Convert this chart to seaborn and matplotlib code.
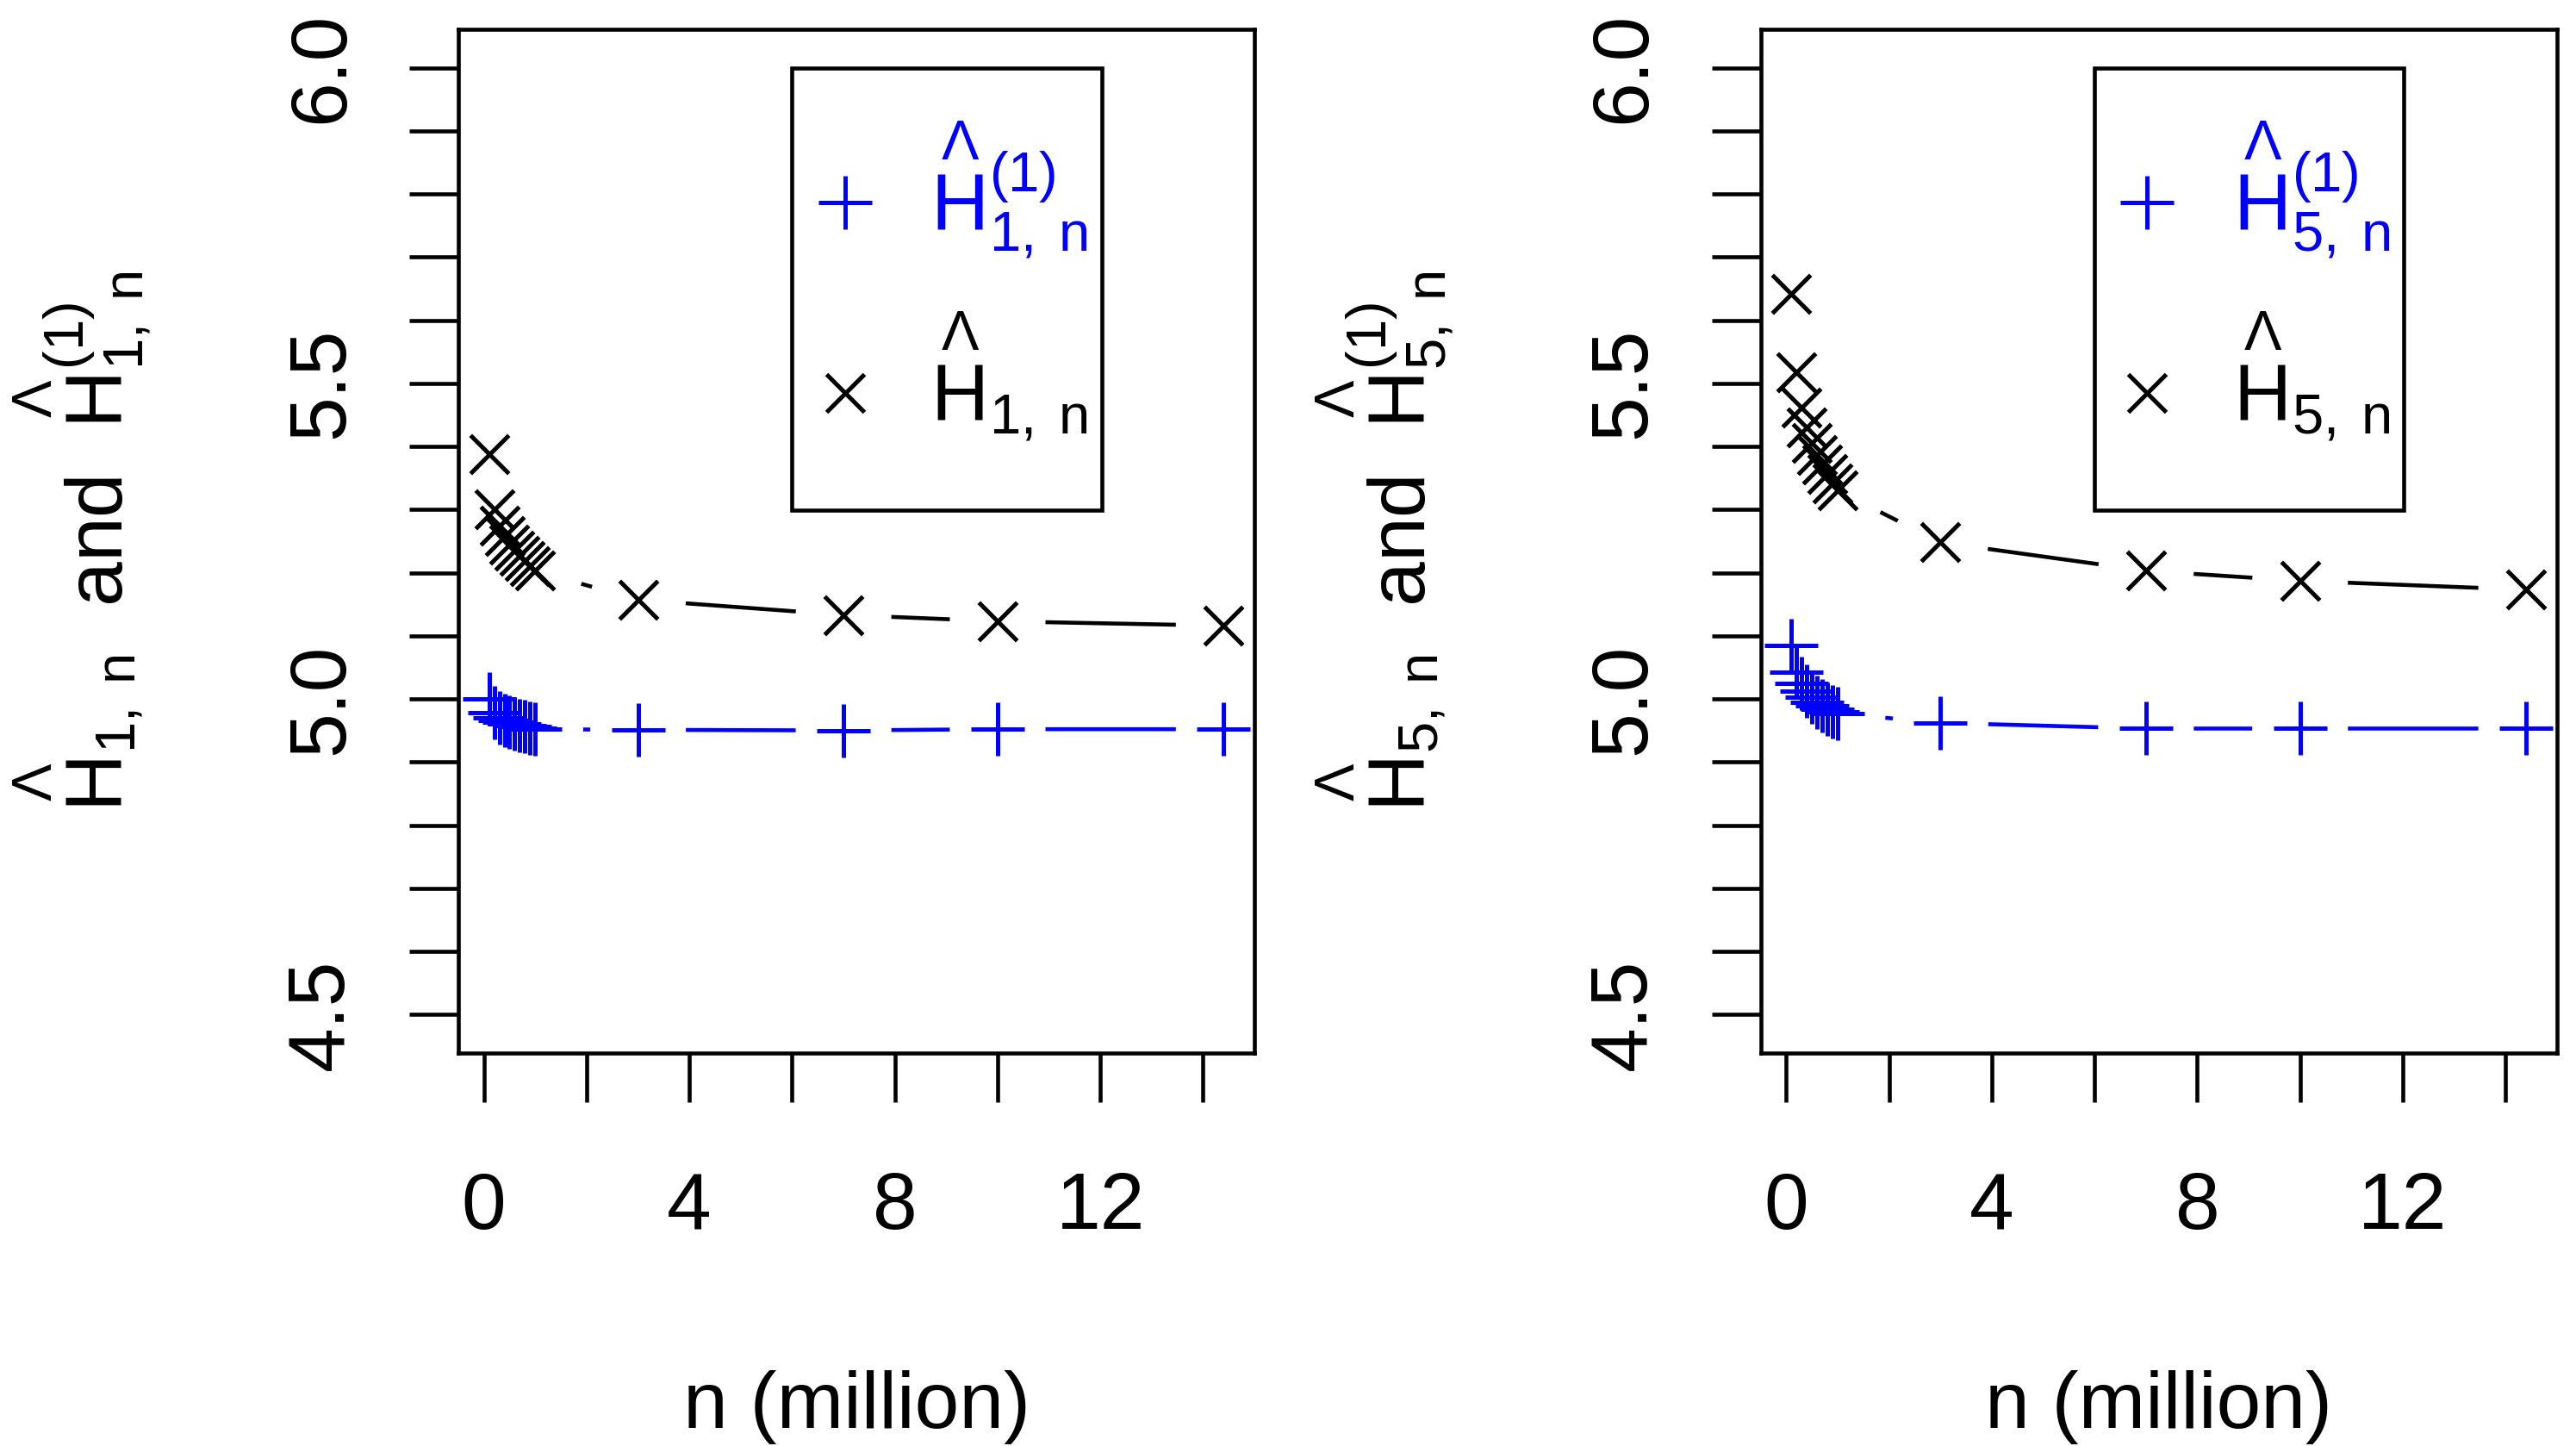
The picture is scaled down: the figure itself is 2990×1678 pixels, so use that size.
import matplotlib
matplotlib.use("Agg")
import matplotlib.pyplot as plt
from matplotlib.lines import Line2D
from matplotlib.patches import Rectangle
from matplotlib.ticker import MultipleLocator
import seaborn as sns

# sample size in millions
n_million = [0.1, 0.2, 0.3, 0.4, 0.5, 0.6, 0.7, 0.8, 0.9, 1.0, 3.0, 7.0, 10.0, 14.4]

# panel k = 1
h1_plain = [5.388, 5.300, 5.275, 5.258, 5.245, 5.235, 5.226, 5.218, 5.210, 5.203,
            5.157, 5.133, 5.123, 5.116]
h1_corr = [5.000, 4.978, 4.970, 4.966, 4.963, 4.960, 4.958, 4.956, 4.954, 4.952,
           4.951, 4.950, 4.952, 4.952]

# panel k = 5
h5_plain = [5.642, 5.518, 5.462, 5.430, 5.405, 5.387, 5.371, 5.356, 5.342, 5.330,
            5.248, 5.203, 5.187, 5.173]
h5_corr = [5.085, 5.042, 5.025, 5.012, 5.003, 4.995, 4.989, 4.984, 4.980, 4.977,
           4.962, 4.953, 4.953, 4.953]

x_ticks = [0, 4, 8, 12]
x_tick_labels = ["0", "4", "8", "12"]
y_ticks = [4.5, 5.0, 5.5, 6.0]
y_tick_labels = ["4.5", "5.0", "5.5", "6.0"]

sns.set_style("ticks", {"axes.edgecolor": "black", "text.color": "black",
                        "xtick.color": "black", "ytick.color": "black",
                        "axes.labelcolor": "black"})
plt.rcParams["font.family"] = ["Liberation Sans", "DejaVu Sans"]
plt.rcParams["mathtext.fontset"] = "custom"
plt.rcParams["mathtext.rm"] = "Liberation Sans"
plt.rcParams["mathtext.it"] = "Liberation Sans"
plt.rcParams["mathtext.bf"] = "Liberation Sans:bold"

FS = 67
LW = 3.3
BLUE = "#0000FF"

# R-style hat: an inverted V sitting above the H
HAT_H = r"\overset{\Lambda}{\mathrm{H}}"


def draw_line(ax, y, color):
    sns.lineplot(x=n_million, y=y, color=color, lw=LW, sort=False,
                 estimator=None, ax=ax, zorder=1)


def draw_masks(ax, y):
    # white discs cut the line around each point, like R's type="b"
    sns.scatterplot(x=n_million, y=y, marker="o", s=80 ** 2, color="white",
                    edgecolor="none", linewidth=0, ax=ax, zorder=1.5, legend=False)


def draw_markers(ax, y, color, marker, size):
    sns.scatterplot(x=n_million, y=y, marker=marker, s=size ** 2, color=color,
                    linewidth=LW + 0.3, ax=ax, zorder=2, legend=False)


def panel(ax, plain, corr, k):
    draw_line(ax, corr, BLUE)
    draw_line(ax, plain, "black")
    draw_masks(ax, corr)
    draw_masks(ax, plain)
    draw_markers(ax, corr, BLUE, "+", 45)
    draw_markers(ax, plain, "black", "x", 32)

    ax.set_xlim(-0.494, 15.0)
    ax.set_ylim(4.439, 6.061)
    ax.set_xticks(x_ticks, labels=x_tick_labels)
    ax.set_yticks(y_ticks, labels=y_tick_labels, rotation=90, va="center")
    ax.xaxis.set_minor_locator(MultipleLocator(2))
    ax.yaxis.set_minor_locator(MultipleLocator(0.1))
    ax.tick_params(which="both", direction="out", length=41, width=LW)
    ax.tick_params(axis="x", labelsize=FS, pad=58)
    ax.tick_params(axis="y", labelsize=FS, pad=42)
    for side in ["top", "right", "bottom", "left"]:
        ax.spines[side].set_visible(True)
        ax.spines[side].set_linewidth(LW)

    sub = r"_{%d,\;n}" % k
    ax.set_xlabel("n (million)", fontsize=FS)
    ax.xaxis.set_label_coords(0.5, -0.31)
    ax.set_ylabel(r"$%s%s$  and  $%s^{(1)}%s$" % (HAT_H, sub, HAT_H, sub),
                  fontsize=FS)
    ax.yaxis.set_label_coords(-0.383, 0.5)

    handles = [Line2D([], [], color=BLUE, marker="+", ls="none", ms=45, mew=LW + 0.3),
               Line2D([], [], color="black", marker="x", ls="none", ms=32, mew=LW + 0.3)]
    labels = [r"$%s^{(1)}%s$" % (HAT_H, sub), r"$%s%s$" % (HAT_H, sub)]
    ax.legend(handles, labels, loc="upper left", bbox_to_anchor=(0.450, 0.912),
              frameon=False, borderpad=0, borderaxespad=0, handlelength=0.7,
              handletextpad=0.72, labelspacing=0.6, fontsize=FS,
              labelcolor=[BLUE, "black"])
    ax.add_patch(Rectangle((0.419, 0.530), 0.389, 0.432, transform=ax.transAxes,
                           fill=False, ec="black", lw=LW, zorder=5))


fig = plt.figure(figsize=(29.9, 16.78), dpi=100)
ax1 = fig.add_axes([0.178, 0.2718, 0.309, 0.708])
ax2 = fig.add_axes([0.6836, 0.2718, 0.309, 0.708])
panel(ax1, h1_plain, h1_corr, 1)
panel(ax2, h5_plain, h5_corr, 5)

fig.savefig("out.png", dpi=100, facecolor="white")
